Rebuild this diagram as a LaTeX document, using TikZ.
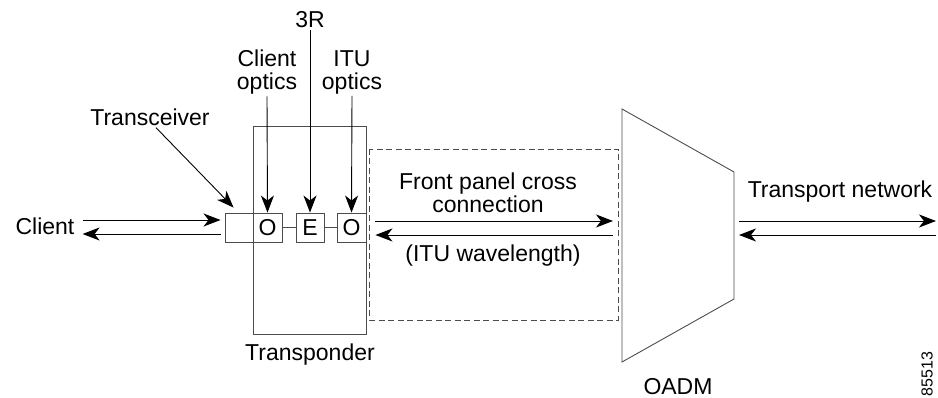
\documentclass[tikz,border=0pt]{standalone}
\usepackage{fontspec}
\setmainfont{Liberation Sans}
\usetikzlibrary{arrows.meta,calc}

\tikzset{
  box/.style={draw=black!70, line width=0.9pt, fill=white, minimum height=29pt, inner sep=0pt},
  frame/.style={draw=black!70, line width=0.9pt},
  arr/.style={-{Stealth[length=17pt,width=13pt,inset=5pt]}, line width=0.9pt},
  lbl/.style={font=\fontsize{23}{23}\selectfont, align=center, inner sep=2pt},
}

\begin{document}
\begin{tikzpicture}[x=1pt,y=-1pt]
        \useasboundingbox (0,0) rectangle (938,398);

        % transponder and its optics
        \node[frame, minimum width=113pt, minimum height=208pt, inner sep=0pt] (xpdr) at (309.5,230) {};
        \node[box, minimum width=28pt] (trx) at (239,227.5) {};
        \node[box, minimum width=29pt, font=\fontsize{23}{23}\selectfont] (o1) at (267.5,227.5) {O};
        \node[box, minimum width=28pt, font=\fontsize{23}{23}\selectfont] (e) at (310,227.5) {E};
        \node[box, minimum width=29pt, font=\fontsize{23}{23}\selectfont] (o2) at (351.5,227.5) {O};
        \draw[frame] (o1) -- (e);
        \draw[frame] (e) -- (o2);
        \node[lbl] (xpdrlbl) at (310,355) {Transponder};

        % labels from above
        \node[lbl] (r3) at (310,20) {3R};
        \node[lbl] (cliopt) at (267,72) {Client\\optics};
        \node[lbl] (ituopt) at (352,72) {ITU\\optics};
        \node[lbl] (tcv) at (150,117) {Transceiver};
        \draw[arr] (r3.south) -- (e.north);
        \draw[arr] (cliopt.south) -- (o1.north);
        \draw[arr] (ituopt.south) -- (o2.north);
        \draw[arr] ([xshift=6pt]tcv.south) -- ($(trx.north west)+(9,-5)$);

        % client side
        \node[lbl] (client) at (45,226) {Client};
        \draw[arr] ($(client.east)+(6,-6)$) -- ($(trx.west)+(-4,-7.5)$);
        \draw[arr] ($(trx.west)+(-4,6.5)$) -- ($(client.east)+(6,8)$);

        % cross connection
        \draw[black!70, line width=0.9pt, dash pattern=on 6pt off 3.5pt] (369,149) rectangle (618,320);
        \coordinate (oadm-nw) at (622,109);
        \coordinate (oadm-ne) at (734,172);
        \coordinate (oadm-se) at (734,299);
        \coordinate (oadm-sw) at (622,362);
        \draw[frame] (oadm-nw) -- (oadm-ne) -- (oadm-se) -- (oadm-sw) -- cycle;
        \node[lbl, anchor=base] (oadmlbl) at (678,394) {OADM};
        \node[lbl] (fpcc) at (488,193) {Front panel cross\\connection};
        \node[lbl] (itu) at (493,256) {(ITU wavelength)};
        \draw[arr] ($(o2.east)+(9,-6.5)$) -- ($(oadm-nw |- o2.east)+(-9,-6.5)$);
        \draw[arr] ($(oadm-nw |- o2.east)+(-9,7.5)$) -- ($(o2.east)+(9,7.5)$);

        % transport network
        \coordinate (net) at (936,227.5);
        \node[lbl] (netlbl) at (840,192) {Transport network};
        \draw[arr] ($(oadm-ne |- o2.east)+(5,-6.5)$) -- ($(net)+(0,-6.5)$);
        \draw[arr] ($(net)+(0,7.5)$) -- ($(oadm-ne |- o2.east)+(5,7.5)$);

        \node[font=\fontsize{16}{16}\selectfont, rotate=90, inner sep=0pt] (figno) at (927,374) {85513};
    \end{tikzpicture}
\end{document}
